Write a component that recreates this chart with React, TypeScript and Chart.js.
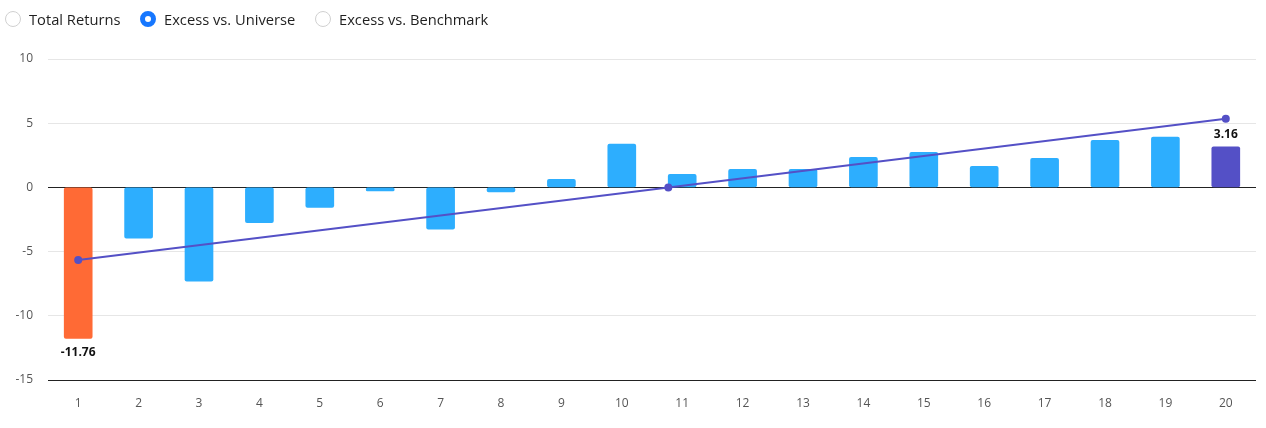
import React, { useEffect, useRef } from "react";
import { Chart, registerables } from "chart.js";

Chart.register(...registerables);

const categories = ["1","2","3","4","5","6","7","8","9","10","11","12","13","14","15","16","17","18","19","20"];
const excessValues = [-11.76,-3.95,-7.3,-2.75,-1.55,-0.28,-3.25,-0.35,0.62,3.38,1.02,1.41,1.41,2.34,2.73,1.64,2.27,3.67,3.91,3.16];
const trendX = [1, 10.77, 20];
const trendY = [-5.65, 0, 5.34];
const yTicks = [10, 5, 0, -5, -10, -15];
const radioLabels = ["Total Returns", "Excess vs. Universe", "Excess vs. Benchmark"];
const selectedRadio = 1;

const BLUE = "#2daefe";
const ORANGE = "#ff6a35";
const PURPLE = "#5450c6";

const FONT = "'Open Sans', 'Noto Sans', sans-serif";

const barColors = excessValues.map((v, i) =>
  i === 0 ? ORANGE : i === excessValues.length - 1 ? PURPLE : BLUE
);

const labelPlugin = {
  id: "endLabels",
  afterDatasetsDraw(chart: any) {
    const meta = chart.getDatasetMeta(0);
    if (!meta || !meta.data) return;
    const ctx = chart.ctx;
    ctx.save();
    ctx.font = `bold 12px ${FONT}`;
    ctx.fillStyle = "#111";
    ctx.textAlign = "center";
    const idxs = [0, excessValues.length - 1];
    idxs.forEach((i) => {
      const el = meta.data[i];
      if (!el) return;
      const v = excessValues[i];
      if (v < 0) {
        ctx.textBaseline = "top";
        ctx.fillText(v.toFixed(2), el.x, el.y + 8);
      } else {
        ctx.textBaseline = "bottom";
        ctx.fillText(v.toFixed(2), el.x, el.y - 6);
      }
    });
    ctx.restore();
  },
};

function Radio({ label, checked, left }: { label: string; checked: boolean; left: number }) {
  return (
    <div
      style={{
        position: "absolute",
        left,
        top: 10,
        display: "flex",
        alignItems: "center",
        height: 18,
        fontFamily: FONT,
        fontSize: 14.7,
        color: "rgba(0,0,0,0.88)",
        whiteSpace: "nowrap",
      }}
    >
      <span
        style={{
          display: "inline-block",
          boxSizing: "border-box",
          width: 16,
          height: 16,
          borderRadius: "50%",
          border: checked ? "5px solid #1677ff" : "1px solid #d0d0d0",
          background: "#fff",
          marginRight: 8,
        }}
      />
      <span>{label}</span>
    </div>
  );
}

export default function App() {
  const canvasRef = useRef<HTMLCanvasElement | null>(null);

  useEffect(() => {
    document.body.style.margin = "0";
    const canvas = canvasRef.current!;
    const chart = new Chart(canvas, {
      type: "bar",
      data: {
        labels: categories,
        datasets: [
          {
            type: "bar" as const,
            data: excessValues,
            backgroundColor: barColors,
            barThickness: 28,
            maxBarThickness: 28,
            grouped: false,
            borderRadius: 2,
            borderSkipped: false,
            xAxisID: "x",
            order: 1,
          } as any,
          {
            type: "line" as const,
            data: trendX.map((x, i) => ({ x, y: trendY[i] })),
            xAxisID: "x2",
            borderColor: PURPLE,
            backgroundColor: PURPLE,
            borderWidth: 2,
            pointRadius: 4,
            pointHoverRadius: 4,
            pointBackgroundColor: PURPLE,
            pointBorderWidth: 0,
            tension: 0,
            order: 0,
          } as any,
        ],
      },
      options: {
        animation: false,
        responsive: false,
        maintainAspectRatio: false,
        layout: { padding: { top: 59, right: 10, left: 0, bottom: 0 } },
        plugins: {
          legend: { display: false },
          tooltip: { enabled: false },
        },
        scales: {
          x: {
            type: "category",
            offset: true,
            grid: { display: false, drawTicks: false, offset: true },
            border: { display: false },
            ticks: {
              color: "#555",
              font: { family: FONT, size: 12 },
              padding: 16,
              maxRotation: 0,
            },
            afterFit(scale: any) {
              scale.height = 48;
            },
          },
          x2: {
            type: "linear",
            display: false,
            offset: false,
            position: "bottom",
            min: 0.5,
            max: 20.5,
          },
          y: {
            min: -15,
            max: 10,
            afterBuildTicks(scale: any) {
              scale.ticks = yTicks.map((v) => ({ value: v }));
            },
            grid: {
              drawTicks: false,
              color: (c: any) =>
                c.tick && (c.tick.value === 0 || c.tick.value === -15) ? "#222" : "#e6e6e6",
              lineWidth: 1,
            },
            border: { display: false },
            ticks: {
              color: "#555",
              font: { family: FONT, size: 12 },
              padding: 15,
            },
            afterFit(scale: any) {
              scale.width = 48;
            },
          },
        },
      } as any,
      plugins: [labelPlugin],
    });
    return () => chart.destroy();
  }, []);

  return (
    <div style={{ position: "relative", width: 1266, height: 428, background: "#fff" }}>
      <canvas ref={canvasRef} width={1266} height={428} style={{ position: "absolute", left: 0, top: 0 }} />
      <Radio label={radioLabels[0]} checked={selectedRadio === 0} left={5} />
      <Radio label={radioLabels[1]} checked={selectedRadio === 1} left={140} />
      <Radio label={radioLabels[2]} checked={selectedRadio === 2} left={315} />
    </div>
  );
}
